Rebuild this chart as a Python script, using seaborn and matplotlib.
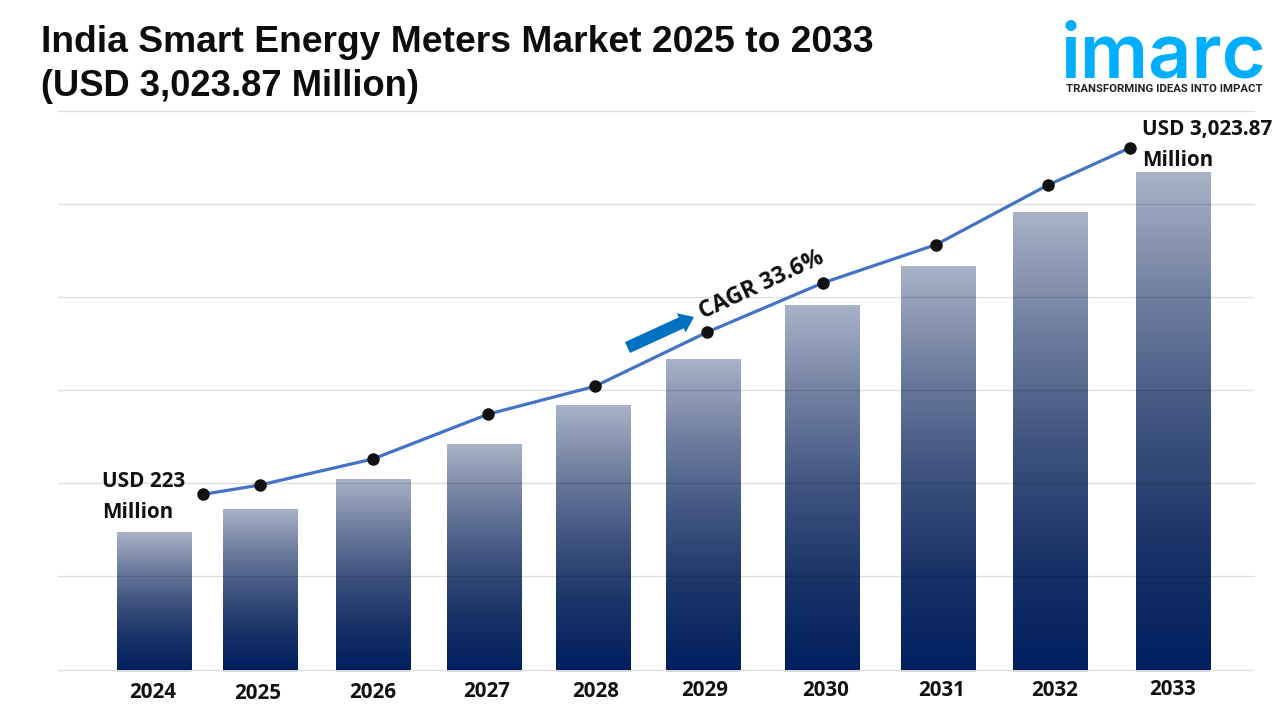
#!/usr/bin/env python
# coding: utf-8

import numpy as np
import seaborn as sns
import matplotlib
matplotlib.use('Agg')

from matplotlib import pyplot
from matplotlib.colors import LinearSegmentedColormap
from matplotlib.patches import FancyArrow
from matplotlib.patheffects import SimplePatchShadow, Normal
from matplotlib.transforms import Affine2D

years = ['2024', '2025', '2026', '2027', '2028', '2029', '2030', '2031', '2032', '2033']
# no scale is printed on the chart, values are in gridline units x 100
bar_values = [148, 172, 204, 242, 284, 333, 391, 433, 491, 534]
line_values = [188, 198, 226, 274, 304, 362, 415, 456, 520, 560]
grid_values = [0, 100, 200, 300, 400, 500, 600]

title_lines = ['India Smart Energy Meters Market 2025 to 2033', '(USD 3,023.87 Million)']
start_label = 'USD 223\nMillion'
end_label = 'USD 3,023.87\nMillion'
cagr_label = 'CAGR 33.6%'

# horizontal layout, the picture does not space things evenly
bar_x = np.array([154.5, 260.5, 373.5, 484.5, 594, 703.5, 823, 939, 1051, 1173.5])
line_x = np.array([203.5, 260.5, 373.5, 488.5, 595.5, 707.5, 823.5, 936.5, 1048.5, 1130.5])
tick_x = np.array([153, 258, 373, 487, 596, 705, 826, 942, 1055, 1173])
tick_y = [693, 694, 693, 692, 692, 691, 691, 691, 691, 690]

sns.set_theme(style='white')
label_font = 'Open Sans'

fig = pyplot.figure(figsize=(12.8, 7.2), dpi=100, facecolor='white')
ax = fig.add_axes([57.5 / 1280, 1 - 669.5 / 720, (1254 - 58) / 1280, (670 - 111) / 720])
px = Affine2D().scale(1 / 1280, -1 / 720).translate(0, 1) + fig.transFigure

sns.barplot(
    x=bar_x, y=bar_values, native_scale=True, width=74.5 / 106,
    color='#8090b0', errorbar=None, saturation=1, ax=ax
)

cmap = LinearSegmentedColormap.from_list(
    'bars', ['#a8b3c8', '#707fa0', '#3f5480', '#1a3468', '#001f5f']
)
gradient = np.linspace(0, 1, 256).reshape(-1, 1)
for patch in ax.patches:
    patch.set_clip_on(False)
    patch.set_path_effects([
        SimplePatchShadow(offset=(0, -2), shadow_rgbFace='#777777', alpha=.3), Normal()
    ])
    x0, y0 = patch.get_x(), patch.get_y()
    im = ax.imshow(
        gradient, cmap=cmap, aspect='auto', interpolation='bilinear', zorder=2,
        extent=(x0, x0 + patch.get_width(), y0, y0 + patch.get_height()), origin='upper'
    )
    im.set_clip_path(patch)

sns.lineplot(
    x=line_x, y=line_values, sort=False, estimator=None, color='#4472c4', linewidth=2.3,
    marker='o', markersize=9, markerfacecolor='#111111', markeredgewidth=0, zorder=4, ax=ax
)

ax.set_xlim(58, 1254)
ax.set_ylim(0, 600)
ax.set_yticks(grid_values)
ax.set_yticklabels([])
ax.set_xticks(tick_x, years, fontsize=14.8, fontweight='bold', family=label_font, color='#111111')
ax.tick_params(axis='both', length=0, pad=0)
for tick, y in zip(ax.xaxis.get_major_ticks(), tick_y):
    tick.label1.set_y((670 - y) / 559)
    tick.label1.set_va('center')
ax.grid(axis='y', color='black', alpha=.13, linewidth=1)
ax.grid(axis='x', visible=False)
ax.set_axisbelow(False)
for gridline in ax.get_ygridlines():
    gridline.set_zorder(3)
    gridline.set_clip_on(False)
sns.despine(ax=ax, left=True, bottom=True)

for y, size, line in zip([52, 96], [26.8, 26.2], title_lines):
    fig.text(41, y, line, transform=px, family='Liberation Sans', fontweight='bold', fontsize=size,
             color='#0d0d0d', va='baseline', ha='left')

fig.text(102, 497, start_label, transform=px, family=label_font, fontweight='bold', fontsize=14.9,
         color='#111111', va='center', ha='left', linespacing=1.6)
fig.text(1142, 145, end_label, transform=px, family=label_font, fontweight='bold', fontsize=14.9,
         color='#111111', va='center', ha='left', linespacing=1.6)
fig.text(762, 285, cagr_label, transform=px, family=label_font, fontweight='bold', fontsize=16.6,
         color='#111111', va='center', ha='center', rotation=25, rotation_mode='anchor')

fig.add_artist(FancyArrow(
    627.5, 347.5, 66.5, -30.5, width=12, head_width=21, head_length=14,
    length_includes_head=True, color='#0070c0', linewidth=0, transform=px
))

fig.text(1163, 78, 'imarc', transform=px, family='Inter', fontweight='semibold', fontsize=54.5,
         color='#00aeff', va='baseline', ha='center')
fig.text(1164, 89, 'TRANSFORMING IDEAS INTO IMPACT', transform=px, family='Roboto', fontweight='bold',
         fontsize=8.2, color='#222222', va='center', ha='center')

fig.savefig('out.png', dpi=100, facecolor='white')
